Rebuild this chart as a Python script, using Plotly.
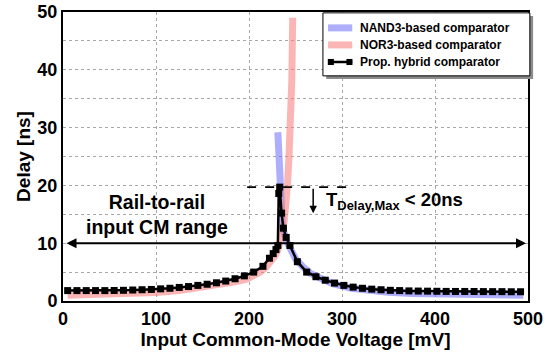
import plotly.graph_objects as go

# Input common-mode voltage [mV] and delay [ns] for each comparator
nor3_vcm = [5, 25, 50, 75, 100, 125, 150, 170, 185, 198, 205, 212, 218, 224, 228, 231, 234, 236, 238, 240, 241.5, 243, 244.5, 246, 247]
nor3_delay = [1.0, 1.05, 1.1, 1.25, 1.45, 1.8, 2.3, 2.8, 3.3, 3.8, 4.3, 5.0, 5.8, 6.8, 7.8, 8.8, 10.3, 11.8, 14.0, 17.0, 20.5, 25.0, 31.0, 38.0, 49.0]

nand3_vcm = [231, 232, 233, 234, 236, 240, 244, 250, 258, 266, 276, 290, 310, 330, 350, 375, 400, 450, 495]
nand3_delay = [29.2, 24.0, 20.0, 16.0, 12.8, 10.5, 9.2, 7.3, 5.9, 4.8, 4.0, 3.0, 2.2, 1.8, 1.5, 1.3, 1.2, 1.1, 1.0]

hybrid_vcm = [5, 15, 25, 35, 45, 55, 65, 75, 85, 95, 105, 115, 125, 135, 145, 155, 165, 175, 185, 195,
              205, 215, 222, 226, 229, 231, 232, 233, 235, 237, 240, 244, 252, 262, 272, 282, 292, 302,
              312, 322, 332, 342, 352, 362, 372, 382, 392, 402, 412, 422, 432, 442, 452, 462, 472, 482, 492]
hybrid_delay = [1.8, 1.8, 1.8, 1.8, 1.8, 1.82, 1.85, 1.9, 1.95, 2.0, 2.1, 2.2, 2.35, 2.5, 2.7, 2.9, 3.15, 3.45, 3.85, 4.35,
                5.0, 6.0, 7.4, 8.2, 8.9, 9.6, 18.6, 19.7, 15.2, 12.6, 11.0, 9.6, 6.8, 5.0, 4.2, 3.6, 3.1, 2.7,
                2.4, 2.2, 2.05, 1.95, 1.85, 1.8, 1.75, 1.72, 1.7, 1.68, 1.66, 1.65, 1.65, 1.64, 1.63, 1.62, 1.62, 1.6, 1.6]

x_ticks = [0, 100, 200, 300, 400, 500]
y_ticks = [0, 10, 20, 30, 40, 50]

series_names = ["NAND3-based comparator", "NOR3-based comparator", "Prop. hybrid comparator"]
series_colors = ["rgba(120,120,250,0.6)", "rgba(250,120,120,0.55)", "black"]

# Annotation anchors (data units)
tmax_level = 19.7
tmax_span = [198, 305]
tmax_arrow = [269, 15.2]
range_level = 10
range_span = [0, 500]

FONT = "Arial, Liberation Sans, sans-serif"
GRID = "#a8a8a8"

fig = go.Figure()
fig.add_trace(go.Scatter(
    x=nand3_vcm, y=nand3_delay, mode="lines", name=series_names[0], showlegend=False,
    line=dict(color=series_colors[0], width=7),
))
fig.add_trace(go.Scatter(
    x=nor3_vcm, y=nor3_delay, mode="lines", name=series_names[1], showlegend=False,
    line=dict(color=series_colors[1], width=7),
))
fig.add_trace(go.Scatter(
    x=hybrid_vcm, y=hybrid_delay, mode="lines+markers", name=series_names[2], showlegend=False,
    line=dict(color=series_colors[2], width=2.5),
    marker=dict(symbol="square", size=7, color=series_colors[2]),
))

# T_Delay,Max dashed level and arrow
fig.add_shape(type="line", x0=tmax_span[0], x1=tmax_span[1], y0=tmax_level, y1=tmax_level,
              line=dict(color="black", width=1.6, dash="dash"))
fig.add_annotation(x=tmax_arrow[0], y=tmax_arrow[1], ax=tmax_arrow[0], ay=tmax_level,
                   xref="x", yref="y", axref="x", ayref="y", text="",
                   showarrow=True, arrowhead=2, arrowsize=1, arrowwidth=1.5, arrowcolor="black")
fig.add_annotation(x=281, y=17.3, xref="x", yref="y", xanchor="left", yanchor="middle",
                   text="T<sub>Delay,Max</sub> < 20ns", showarrow=False,
                   font=dict(family=FONT, size=18.5, color="black", weight="bold"))

# Rail-to-rail double arrow
fig.add_annotation(x=range_span[1], y=range_level, ax=range_span[0], ay=range_level,
                   xref="x", yref="y", axref="x", ayref="y", text="",
                   showarrow=True, arrowhead=2, startarrowhead=2, arrowside="end+start",
                   arrowsize=1, startarrowsize=1, arrowwidth=2, arrowcolor="black",
                   standoff=2, startstandoff=2)
fig.add_annotation(x=101, y=14.9, xref="x", yref="y", showarrow=False,
                   text="Rail-to-rail<br>input CM range", align="center",
                   font=dict(family=FONT, size=19.5, color="black", weight="bold"))

# Legend box with drop shadow (paper coordinates)
box = dict(x0=0.559, x1=1.004, y0=0.779, y1=0.997)
fig.add_shape(type="rect", xref="paper", yref="paper",
              x0=box["x0"] + 0.007, x1=box["x1"] + 0.007, y0=box["y0"] - 0.011, y1=box["y1"] - 0.011,
              fillcolor="#8c8c8c", line=dict(width=0), layer="above")
fig.add_shape(type="rect", xref="paper", yref="paper", **box,
              fillcolor="white", line=dict(color="black", width=1), layer="above")

entry_y = [0.945, 0.886, 0.827]
sym_x = [0.570, 0.622]
for i, (name, col) in enumerate(zip(series_names, series_colors)):
    yy = entry_y[i]
    if i < 2:
        fig.add_shape(type="line", xref="paper", yref="paper", x0=sym_x[0], x1=sym_x[1], y0=yy, y1=yy,
                      line=dict(color=col, width=7), layer="above")
    else:
        fig.add_shape(type="line", xref="paper", yref="paper", x0=sym_x[0], x1=sym_x[1], y0=yy, y1=yy,
                      line=dict(color=col, width=2.5), layer="above")
        for sx in (sym_x[0] + 0.006, sym_x[1] - 0.006):
            fig.add_shape(type="rect", xref="paper", yref="paper",
                          x0=sx - 0.0065, x1=sx + 0.0065, y0=yy - 0.0105, y1=yy + 0.0105,
                          fillcolor=col, line=dict(width=0), layer="above")
    fig.add_annotation(x=0.634, y=yy, xref="paper", yref="paper", xanchor="left", yanchor="middle",
                       text=name, showarrow=False,
                       font=dict(family=FONT, size=12, color="black", weight="bold"))

axis_common = dict(
    showline=True, linecolor="black", linewidth=2, mirror=True,
    ticks="", showgrid=True, gridcolor=GRID, gridwidth=1, griddash="dot",
    tickfont=dict(family=FONT, size=18, color="black", weight="bold"),
    zeroline=False, automargin=False,
)

fig.update_xaxes(
    range=[0, 500], tickvals=x_ticks,
    title=dict(text="Input Common-Mode Voltage [mV]", standoff=5,
               font=dict(family=FONT, size=19, color="black", weight="bold")),
    **axis_common,
)
fig.update_yaxes(
    range=[0, 50], tickvals=y_ticks,
    minor=dict(dtick=5, showgrid=True, gridcolor=GRID, griddash="dot", gridwidth=1),
    title=dict(text="Delay [ns]", standoff=2,
               font=dict(family=FONT, size=19, color="black", weight="bold")),
    **axis_common,
)

fig.update_layout(
    width=546, height=356,
    margin=dict(l=63, r=18, t=12, b=55),
    plot_bgcolor="white", paper_bgcolor="white",
    showlegend=False,
)

fig.write_html("out.html")
